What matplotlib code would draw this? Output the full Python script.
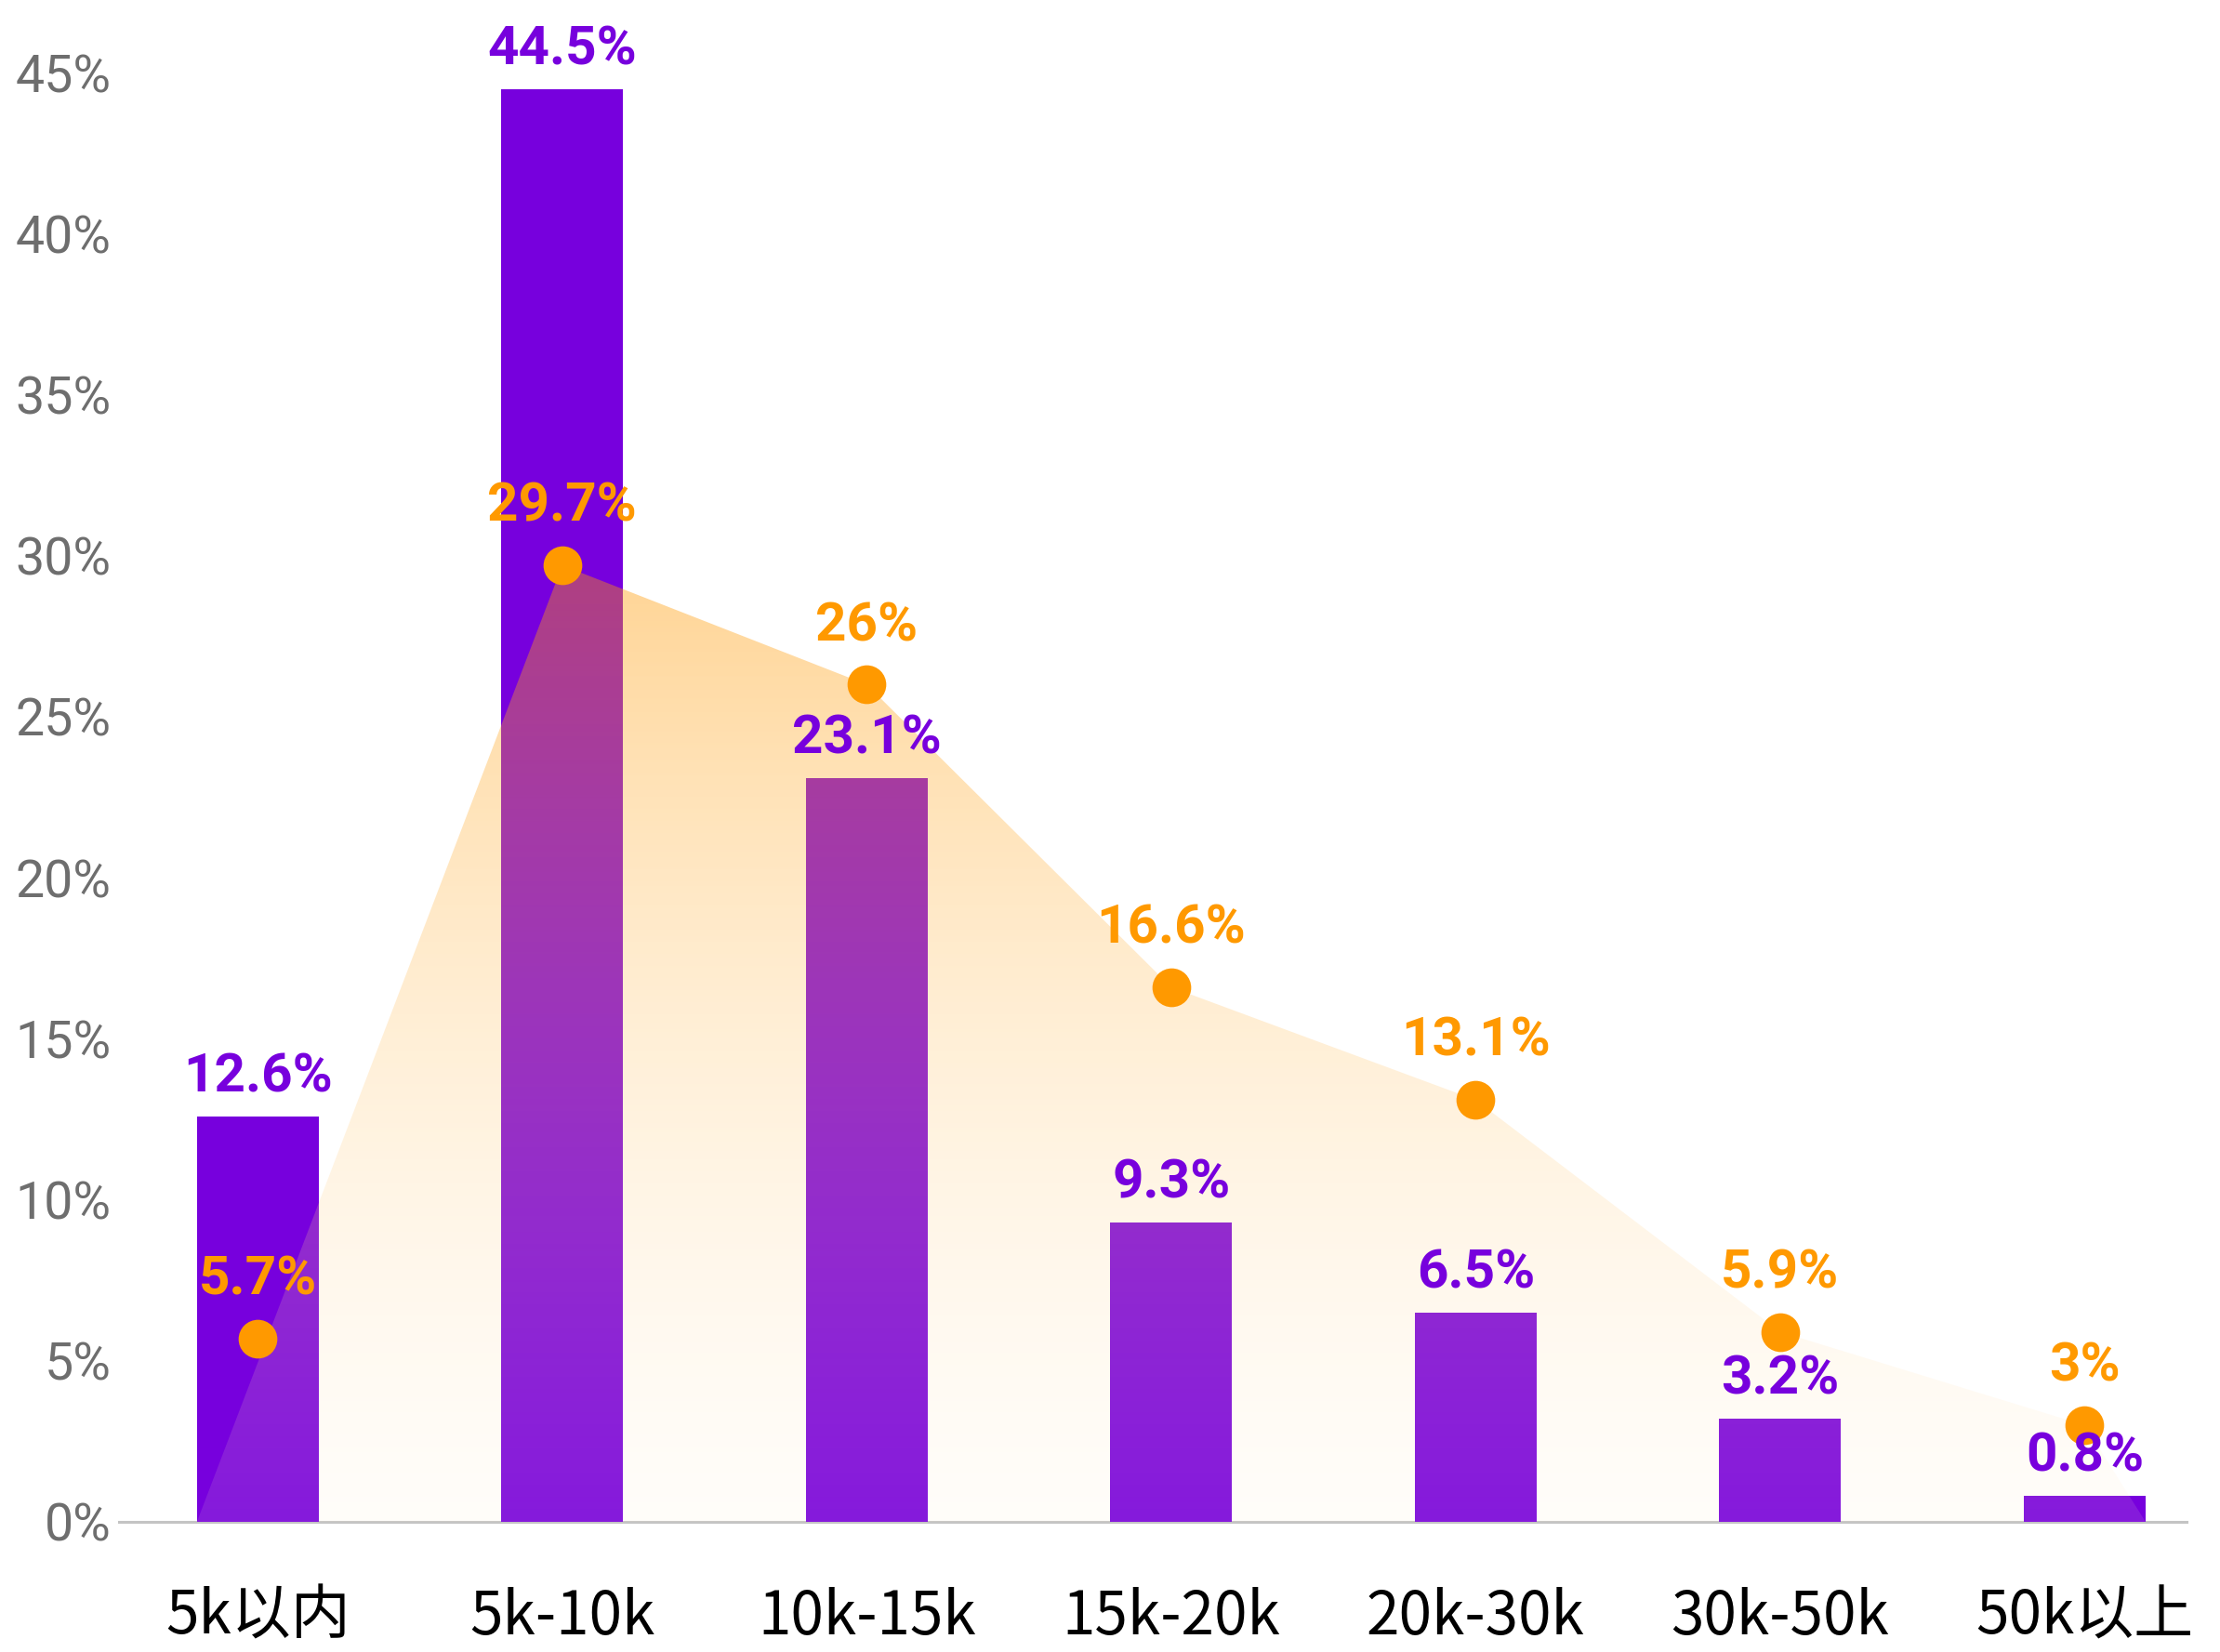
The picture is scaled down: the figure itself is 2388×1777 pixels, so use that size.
import numpy as np
import matplotlib
matplotlib.use("Agg")
import matplotlib.pyplot as plt
from matplotlib.patches import Polygon

# Salary bands and the two series (percent)
categories = ["5k以内", "5k-10k", "10k-15k", "15k-20k", "20k-30k", "30k-50k", "50k以上"]
bar_values = [12.6, 44.5, 23.1, 9.3, 6.5, 3.2, 0.8]
line_values = [5.7, 29.7, 26, 16.6, 13.1, 5.9, 3]
y_ticks = [0, 5, 10, 15, 20, 25, 30, 35, 40, 45]

PURPLE = "#7700DD"
ORANGE = "#FF9900"
BAR_W = 0.4

plt.rcParams["font.family"] = ["Roboto", "Noto Sans CJK SC", "DejaVu Sans"]

fig = plt.figure(figsize=(11.94, 8.885), dpi=200)
ax = fig.add_axes([0.0536, 0.0788, 0.9314, 0.8772])

x = np.arange(len(categories))

# Bars
ax.bar(x, bar_values, width=BAR_W, color=PURPLE, zorder=2)

# Area under the orange series: from the first bar's left foot, through
# points 2..7, down to the last bar's right foot, filled with a vertical fade
poly_x = [x[0] - BAR_W / 2] + list(x[1:]) + [x[-1] + BAR_W / 2]
poly_y = [0] + list(line_values[1:]) + [0]
top = max(line_values)
poly = Polygon(np.column_stack([poly_x, poly_y]), closed=True,
               facecolor="none", edgecolor="none")
ax.add_patch(poly)

n = 400
t = np.linspace(1.0, 0.0, n)[:, None]          # 1 at the top, 0 at the base
c_top = np.array([1.0, 0.6, 0.0])
c_bot = np.array([1.0, 0.94, 0.82])
a_top, a_bot = 0.42, 0.11
grad = np.zeros((n, 2, 4))
for k in range(3):
    grad[..., k] = c_bot[k] + (c_top[k] - c_bot[k]) * t
grad[..., 3] = a_bot + (a_top - a_bot) * t
im = ax.imshow(grad, extent=[poly_x[0], poly_x[-1], 0, top], aspect="auto",
               origin="upper", zorder=3, interpolation="bilinear")
im.set_clip_path(poly)

# Orange points
ax.plot(x, line_values, linestyle="none", marker="o", markersize=15,
        color=ORANGE, markeredgewidth=0, zorder=4)

# Value labels
for xi, v in zip(x, bar_values):
    ax.annotate(f"{v:g}%", (xi, v), xytext=(0, 9.5), textcoords="offset points",
                ha="center", va="baseline", fontsize=21, fontweight="bold",
                color=PURPLE, zorder=6, annotation_clip=False)
for xi, v in zip(x, line_values):
    ax.annotate(f"{v:g}%", (xi, v), xytext=(0, 17), textcoords="offset points",
                ha="center", va="baseline", fontsize=21, fontweight="bold",
                color=ORANGE, zorder=6, annotation_clip=False)

# Axes styling
ax.set_xlim(-0.456, 6.335)
ax.set_ylim(0, 45)
ax.set_yticks(y_ticks)
ax.set_yticklabels([f"{t}%" for t in y_ticks], fontsize=20, color="#6E6E6E")
ax.set_xticks(x)
ax.set_xticklabels(categories, fontsize=23, color="#000000",
                   family=["Noto Sans CJK SC", "DejaVu Sans"])
ax.tick_params(axis="x", length=0, pad=25)
ax.tick_params(axis="y", length=0, pad=3)
for side in ["top", "right", "left"]:
    ax.spines[side].set_visible(False)
ax.spines["bottom"].set_color("#C4C4C4")
ax.spines["bottom"].set_linewidth(1.1)
ax.spines["bottom"].set_zorder(1)

fig.savefig("out.png", dpi=200, facecolor="white")
